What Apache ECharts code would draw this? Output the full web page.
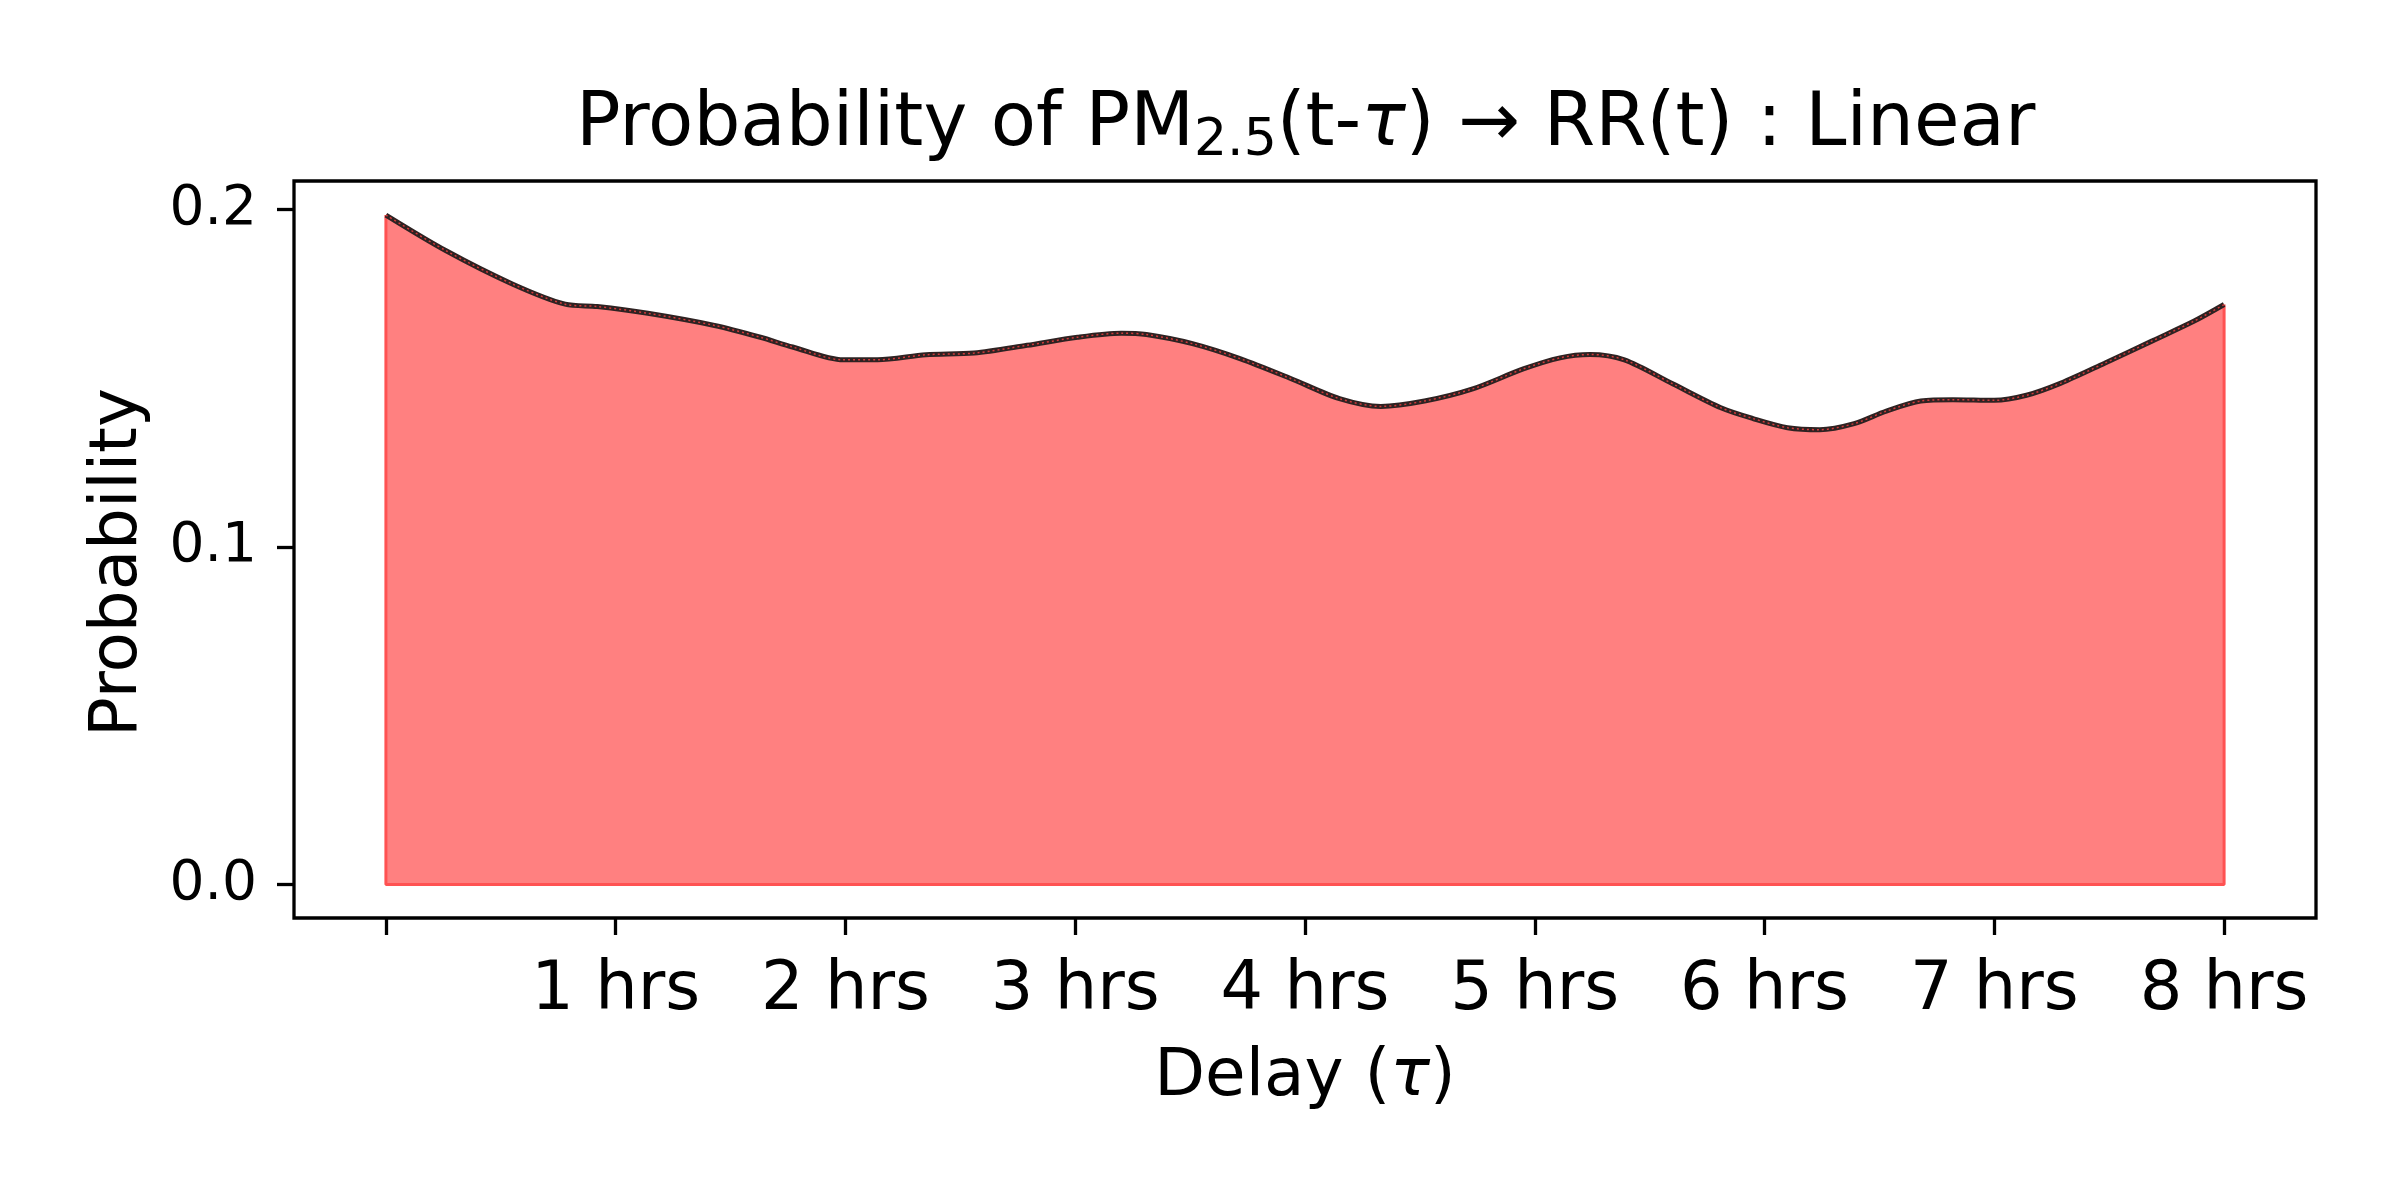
<!DOCTYPE html>
<html>
<head>
<meta charset="utf-8">
<title>Probability of PM2.5 lag</title>
<script src="https://cdn.jsdelivr.net/npm/echarts@6/dist/echarts.min.js"></script>
<style>
  html, body { margin: 0; padding: 0; background: #fff; }
  #chart { width: 2400px; height: 1200px; }
</style>
</head>
<body>
<div id="chart"></div>
<script>
// delay in hours
var delayHours = [0.00, 0.26, 0.55, 0.78, 0.92, 1.14, 1.43, 1.63, 1.77, 1.99, 2.14, 2.35, 2.56, 2.79,
  3.01, 3.20, 3.31, 3.51, 3.72, 3.94, 4.15, 4.33, 4.52, 4.73, 4.95, 5.11, 5.24, 5.39, 5.60,
  5.81, 5.95, 6.10, 6.24, 6.39, 6.53, 6.68, 6.82, 7.00, 7.14, 7.29, 7.48, 7.69, 7.87, 8.00];
var probability = [0.1984, 0.1879, 0.1780, 0.1720, 0.1713, 0.1693, 0.1657, 0.1622, 0.1593, 0.1555, 0.1555, 0.1570, 0.1575, 0.1598,
  0.1622, 0.1634, 0.1630, 0.1603, 0.1558, 0.1499, 0.1440, 0.1417, 0.1433, 0.1469, 0.1528, 0.1561, 0.1571, 0.1555, 0.1484,
  0.1413, 0.1381, 0.1354, 0.1348, 0.1366, 0.1403, 0.1433, 0.1437, 0.1435, 0.1450, 0.1486, 0.1545, 0.1612, 0.1670, 0.1719];

var xTicks = [0, 1, 2, 3, 4, 5, 6, 7, 8];
var xTickLabels = [1, 2, 3, 4, 5, 6, 7, 8];
var yTicks = [0, 0.1, 0.2];

var curve = delayHours.map(function (h, i) { return [h, probability[i]]; });
var last = delayHours.length - 1;
// outline of the filled region (left side, bottom, right side)
var fillEdge = [
  [delayHours[0], probability[0]],
  [delayHours[0], 0],
  [delayHours[last], 0],
  [delayHours[last], probability[last]]
];

var chart = echarts.init(document.getElementById('chart'), null, { renderer: 'canvas' });

var font = 'DejaVu Sans';

var option = {
  backgroundColor: '#ffffff',
  animation: false,
  title: {
    text: '{a|Probability of PM}{s|2.5}{a|(t-}{i|τ}{a|) → RR(t) : Linear}',
    left: 571,
    top: 80,
    textStyle: {
      fontWeight: 'normal',
      rich: {
        a: { fontFamily: font, fontSize: 74, fontWeight: 'normal', color: '#000' },
        s: { fontFamily: font, fontSize: 52, fontWeight: 'normal', color: '#000', padding: [30, 0, 0, 0] },
        i: { fontFamily: font, fontSize: 74, fontWeight: 'normal', color: '#000', fontStyle: 'italic' }
      }
    }
  },
  grid: {
    left: 294,
    right: 84,
    top: 181,
    bottom: 282,
    show: true,
    borderColor: '#000',
    borderWidth: 3.3,
    backgroundColor: 'transparent'
  },
  xAxis: {
    type: 'value',
    min: -0.4,
    max: 8.4,
    splitLine: { show: false },
    axisLine: { show: false, onZero: false },
    axisTick: {
      show: true,
      customValues: xTicks,
      length: 17,
      lineStyle: { color: '#000', width: 3.3 }
    },
    axisLabel: {
      customValues: xTickLabels,
      formatter: function (v) { return v + ' hrs'; },
      fontFamily: font,
      fontSize: 67,
      color: '#000',
      margin: 40
    },
    name: '{a|Delay (}{i|τ}{a|)}',
    nameLocation: 'middle',
    nameGap: 127,
    nameTextStyle: {
      rich: {
        a: { fontFamily: font, fontSize: 66, color: '#000' },
        i: { fontFamily: font, fontSize: 66, color: '#000', fontStyle: 'italic' }
      }
    }
  },
  yAxis: {
    type: 'value',
    min: -0.0099,
    max: 0.2085,
    splitLine: { show: false },
    axisLine: { show: false, onZero: false },
    axisTick: {
      show: true,
      customValues: yTicks,
      length: 17,
      lineStyle: { color: '#000', width: 3.3 }
    },
    axisLabel: {
      customValues: yTicks,
      formatter: function (v) { return v.toFixed(1); },
      fontFamily: font,
      fontSize: 55,
      color: '#000',
      margin: 37
    },
    name: 'Probability',
    nameLocation: 'middle',
    nameGap: 142,
    nameTextStyle: { fontFamily: font, fontSize: 66, color: '#000', padding: [0, 26, 0, 0] }
  },
  series: [
    {
      name: 'fill',
      type: 'line',
      data: curve,
      smooth: 0.3,
      showSymbol: false,
      lineStyle: { width: 0 },
      areaStyle: { color: '#ff8080', opacity: 1 },
      z: 1
    },
    {
      name: 'edge',
      type: 'line',
      data: fillEdge,
      showSymbol: false,
      lineStyle: { color: '#ff5252', width: 3 },
      z: 2
    },
    {
      name: 'probability',
      type: 'line',
      data: curve,
      smooth: 0.3,
      showSymbol: false,
      lineStyle: { color: '#2e2222', width: 5 },
      z: 3
    },
    {
      name: 'markers',
      type: 'line',
      data: curve,
      smooth: 0.3,
      showSymbol: false,
      lineStyle: { color: '#d23a3a', width: 1.5, type: [2, 3] },
      z: 4
    }
  ]
};

chart.setOption(option);
</script>
</body>
</html>
